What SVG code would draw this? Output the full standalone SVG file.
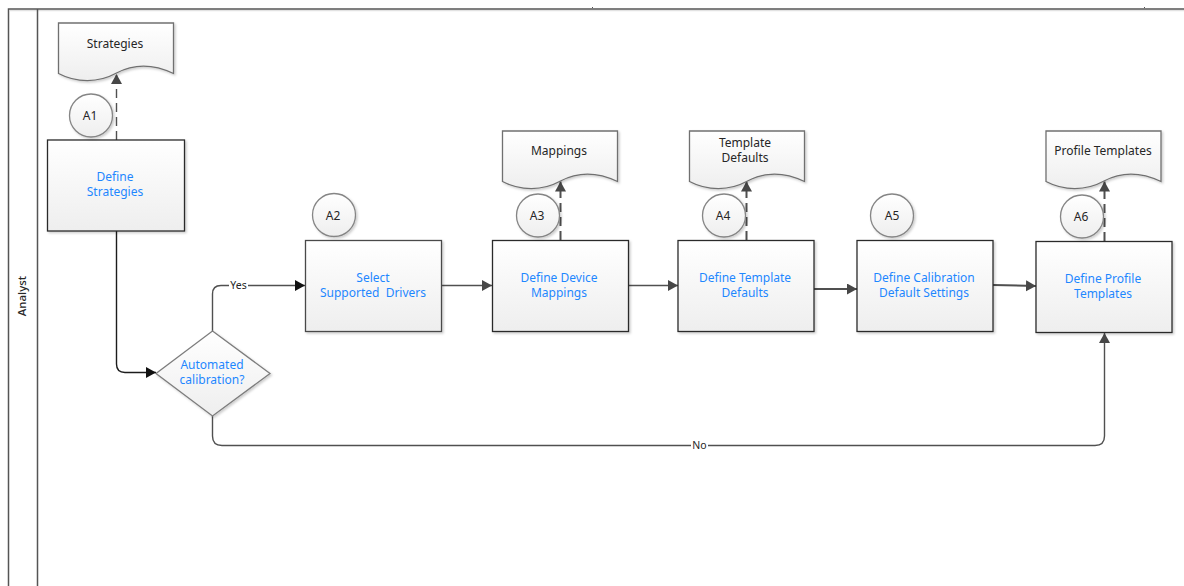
<svg xmlns="http://www.w3.org/2000/svg" width="1184" height="586" viewBox="0 0 1184 586">
<style>
text{font-family:"Noto Sans","Liberation Sans",sans-serif;font-size:12px;text-anchor:middle}
.t{fill:#262626}.b{fill:#1e87ff}
.box{fill:url(#g);stroke:#2b2b2b;stroke-width:1.3;filter:url(#s)}
.doc{fill:url(#g);stroke:#707070;stroke-width:1.3;filter:url(#s)}
.circ{fill:url(#g);stroke:#858585;stroke-width:1.3;filter:url(#s)}
.c{fill:none;stroke:#505050;stroke-width:1.4}
.k{stroke:#1c1c1c}
.h{stroke-width:2}
.d{stroke-dasharray:9 5}
.lane{fill:none;stroke:#555;stroke-width:1.5}
</style>
<defs>
<linearGradient id="g" x1="0" y1="0" x2="0" y2="1"><stop offset="0" stop-color="#fff"/><stop offset="1" stop-color="#eee"/></linearGradient>
<filter id="s" x="-10%" y="-10%" width="125%" height="125%"><feDropShadow dx="1.500" dy="1.500" stdDeviation="1" flood-color="#000" flood-opacity=".2"/></filter>
<marker id="a" markerUnits="userSpaceOnUse" markerWidth="12" markerHeight="12" refX="10" refY="5.500" orient="auto"><path d="M0 0L10 5.500L0 11z" fill="#474747"/></marker>
<marker id="ak" markerUnits="userSpaceOnUse" markerWidth="12" markerHeight="12" refX="10" refY="5.500" orient="auto"><path d="M0 0L10 5.500L0 11z" fill="#111"/></marker>
<path id="w" d="M0 0H115V50.500C95 41 75 41 58 50C40 60 18 60 0 50.500Z"/>
</defs>
<rect width="1184" height="586" fill="#fff"/>
<g id="lane">
<path d="M10 10.500H1184" stroke="#e2e2e2" stroke-width="1.500" fill="none"/>
<path class="lane" d="M8.500 586V9H1184"/>
<path class="lane" d="M37.500 9V586"/>
<path d="M592 7.500H593M1144 7.500H1145" stroke="#555"/>
<text transform="translate(26 296) rotate(-90)" class="t" style="font-size:11.500px;font-weight:500">Analyst</text>
</g>
<g id="connectors">
<path class="c d" d="M116.500 140V74" marker-end="url(#a)"/>
<path class="c k" d="M116.500 231V364Q116.500 372.500 125 372.500H156" marker-end="url(#ak)"/>
<path class="c" d="M212.500 331V294Q212.500 285.500 221 285.500H305" marker-end="url(#ak)"/>
<path class="c" d="M441 285.500H492" marker-end="url(#a)"/>
<path class="c d h" d="M560.500 240V181.500" marker-end="url(#a)"/>
<path class="c" d="M628 285.500H678" marker-end="url(#a)"/>
<path class="c d h" d="M746.500 240V181.500" marker-end="url(#a)"/>
<path class="c h" d="M814 289H857" marker-end="url(#a)"/>
<path class="c h" d="M993 285L1036 286" marker-end="url(#a)"/>
<path class="c d h" d="M1104.500 241V181.500" marker-end="url(#a)"/>
<path class="c" d="M212.500 416V436Q212.500 445.500 222 445.500H1095Q1104.500 445.500 1104.500 436V333" marker-end="url(#a)"/>
<rect x="229" y="279" width="19" height="12" fill="#fff"/>
<text x="238.500" y="289" class="t" style="font-size:10.500px">Yes</text>
<rect x="691" y="439" width="17" height="12" fill="#fff"/>
<text x="699.500" y="449" class="t" style="font-size:10.500px">No</text>
</g>
<g id="doc-strategies"><use href="#w" x="58.500" y="23" class="doc"/><text x="115" y="48" class="t">Strategies</text></g>
<g id="doc-mappings"><use href="#w" x="502.500" y="131" class="doc"/><text x="559" y="155" class="t">Mappings</text></g>
<g id="doc-template"><use href="#w" x="689.500" y="131" class="doc"/><text x="745" y="147" class="t">Template</text><text x="745" y="162" class="t">Defaults</text></g>
<g id="doc-profile"><use href="#w" x="1046" y="131" class="doc"/><text x="1103" y="155" class="t">Profile Templates</text></g>
<g id="define-strategies"><rect class="box" x="47.500" y="140" width="137" height="91"/><text x="115" y="181" class="b">Define</text><text x="115" y="196" class="b">Strategies</text></g>
<g id="decision"><path d="M212.500 331L270 373.500L212.500 416L156 373.500Z" fill="url(#g)" stroke="#7d7d7d" stroke-width="1.300" filter="url(#s)"/><text x="212" y="369" class="b">Automated</text><text x="212" y="384" class="b">calibration?</text></g>
<g id="select-drivers"><rect class="box" x="305.500" y="240.500" width="136" height="91" style="stroke:#4a4a4a"/><text x="373" y="281.500" class="b">Select</text><text x="373" y="296.500" class="b" xml:space="preserve">Supported  Drivers</text></g>
<g id="define-mappings"><rect class="box" x="492.500" y="240.500" width="136" height="91"/><text x="559" y="281.500" class="b">Define Device</text><text x="559" y="296.500" class="b">Mappings</text></g>
<g id="define-template"><rect class="box" x="678" y="240.500" width="136" height="91"/><text x="745" y="281.500" class="b">Define Template</text><text x="745" y="296.500" class="b">Defaults</text></g>
<g id="define-calibration"><rect class="box" x="857" y="240.500" width="136" height="91"/><text x="924" y="281.500" class="b">Define Calibration</text><text x="924" y="296.500" class="b">Default Settings</text></g>
<g id="define-profile"><rect class="box" x="1036" y="241.500" width="136" height="91"/><text x="1103" y="282.500" class="b">Define Profile</text><text x="1103" y="297.500" class="b">Templates</text></g>
<g id="A1"><circle class="circ" cx="91" cy="115.500" r="21.500"/><text x="90" y="120" class="t">A1</text></g>
<g id="A2"><circle class="circ" cx="334" cy="215" r="21.500"/><text x="333" y="219.500" class="t">A2</text></g>
<g id="A3"><circle class="circ" cx="538" cy="215.500" r="21.500"/><text x="537" y="220" class="t">A3</text></g>
<g id="A4"><circle class="circ" cx="724" cy="215.500" r="21.500"/><text x="723" y="220" class="t">A4</text></g>
<g id="A5"><circle class="circ" cx="892" cy="215.500" r="21.500"/><text x="892" y="220" class="t">A5</text></g>
<g id="A6"><circle class="circ" cx="1082" cy="216.500" r="21.500"/><text x="1081" y="221" class="t">A6</text></g>
</svg>
